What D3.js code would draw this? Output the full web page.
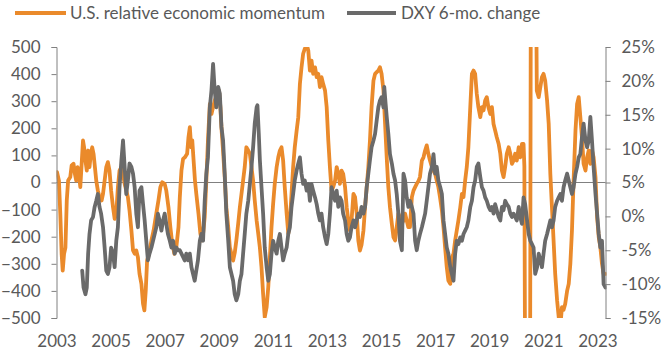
<!DOCTYPE html>
<html><head><meta charset="utf-8">
<script src="https://cdn.jsdelivr.net/npm/d3@7"></script>
<style>
html,body{margin:0;padding:0;background:#fff;}
svg{display:block;font-family:Lato,"Open Sans",sans-serif;}
</style></head>
<body><svg id="chart" width="664" height="352"></svg>
<script>
// ---- data ----
const seriesNames = ["U.S. relative economic momentum", "DXY 6-mo. change"];
const yearTicks = [2003,2005,2007,2009,2011,2013,2015,2017,2019,2021,2023];
const leftTicks = [-500,-400,-300,-200,-100,0,100,200,300,400,500];
const rightTicks = [-15,-10,-5,0,5,10,15,20,25];

const momentumYears = [2003.00,2003.02,2003.09,2003.14,2003.19,2003.23,2003.28,2003.33,2003.38,2003.43,2003.51,2003.56,2003.63,2003.68,2003.73,2003.78,2003.83,2003.88,2003.93,2003.98,
2004.02,2004.07,2004.12,2004.17,2004.22,2004.27,2004.32,2004.37,2004.42,2004.47,2004.53,2004.59,2004.67,2004.72,2004.78,2004.84,2004.90,2004.96,
2005.02,2005.09,2005.15,2005.21,2005.27,2005.33,2005.40,2005.46,2005.52,2005.58,2005.64,2005.70,2005.77,2005.83,2005.89,2005.95,
2006.01,2006.07,2006.14,2006.20,2006.25,2006.30,2006.35,2006.42,2006.51,2006.59,2006.69,2006.77,2006.84,2006.91,
2007.00,2007.06,2007.14,2007.21,2007.28,2007.36,2007.43,2007.51,2007.56,2007.62,2007.68,2007.75,2007.83,2007.88,2007.93,2007.98,
2008.02,2008.07,2008.12,2008.17,2008.25,2008.32,2008.37,2008.42,2008.48,2008.54,2008.60,2008.67,2008.73,2008.79,2008.85,2008.94,
2009.01,2009.06,2009.10,2009.15,2009.22,2009.28,2009.35,2009.41,2009.53,2009.59,2009.65,2009.72,2009.78,2009.84,2009.90,2009.96,
2010.02,2010.09,2010.15,2010.21,2010.27,2010.33,2010.40,2010.46,2010.52,2010.58,2010.64,2010.70,2010.77,2010.83,2010.89,2010.95,
2011.01,2011.07,2011.14,2011.20,2011.26,2011.32,2011.38,2011.44,2011.51,2011.57,2011.63,2011.69,2011.75,2011.81,2011.88,2011.94,
2012.00,2012.06,2012.12,2012.18,2012.25,2012.31,2012.37,2012.43,2012.49,2012.56,2012.62,2012.68,2012.74,2012.80,2012.86,2012.93,2012.99,
2013.05,2013.11,2013.17,2013.23,2013.30,2013.36,2013.42,2013.48,2013.54,2013.60,2013.67,2013.73,2013.79,2013.85,2013.91,2013.98,
2014.04,2014.10,2014.16,2014.22,2014.28,2014.35,2014.41,2014.47,2014.53,2014.59,2014.65,2014.72,2014.78,2014.84,2014.90,2014.96,
2015.02,2015.09,2015.15,2015.21,2015.27,2015.33,2015.40,2015.46,2015.52,2015.58,2015.64,2015.70,2015.77,2015.83,2015.89,2015.95,
2016.01,2016.07,2016.14,2016.20,2016.26,2016.32,2016.39,2016.44,2016.51,2016.57,2016.63,2016.69,2016.75,2016.81,2016.88,2016.94,
2017.00,2017.06,2017.12,2017.18,2017.25,2017.31,2017.37,2017.43,2017.49,2017.56,2017.62,2017.68,2017.74,2017.80,2017.86,2017.93,2017.99,
2018.05,2018.11,2018.17,2018.23,2018.30,2018.36,2018.42,2018.48,2018.54,2018.60,2018.67,2018.73,2018.79,2018.85,2018.91,2018.97,
2019.04,2019.10,2019.16,2019.22,2019.28,2019.35,2019.41,2019.47,2019.53,2019.59,2019.65,2019.72,2019.78,2019.84,2019.90,2019.96,
2020.02,2020.09,2020.15,2020.21,2020.27,2020.30,2020.33,2020.51,2020.54,2020.73,2020.76,2020.83,2020.89,2020.95,
2021.01,2021.07,2021.14,2021.20,2021.26,2021.32,2021.38,2021.44,2021.51,2021.57,2021.63,2021.69,2021.75,2021.81,2021.88,2021.94,
2022.00,2022.06,2022.12,2022.19,2022.25,2022.31,2022.37,2022.43,2022.49,2022.56,2022.62,2022.68,2022.74,2022.80,2022.86,2022.93,2022.99,
2023.05,2023.11,2023.17,2023.23,2023.30];
const momentumValues = [30,38,7,-115,-263,-325,-263,-240,-66,7,20,63,69,32,7,57,32,-17,69,155,
130,81,44,118,57,106,130,106,57,7,-30,-54,-66,-42,7,57,75,44,
-30,-91,-134,-115,-17,44,57,32,-5,-30,-54,-103,-177,-251,-263,-251,
-276,-337,-374,-448,-472,-399,-288,-263,-214,-177,-115,-66,-17,1,
-5,-30,-91,-165,-226,-263,-240,-165,-54,44,87,93,106,167,204,130,
155,81,7,-42,-115,-189,-214,-189,-128,7,155,290,253,278,302,327,
339,278,200,130,20,-91,-165,-240,-288,-260,-214,-150,-91,-42,7,57,
130,118,106,57,7,-66,-140,-189,-240,-312,-411,-497,-460,-386,-276,-165,
-79,-5,57,93,118,130,81,-17,-115,-189,-140,-42,57,130,192,241,
364,425,475,493,510,487,413,450,401,425,389,401,352,389,364,339,278,
155,57,-30,-17,7,57,32,-5,44,32,-17,-91,-140,-177,-140,-42,
-54,-115,-214,-251,-230,-177,-91,-17,57,155,278,376,401,407,413,425,
401,339,216,93,-17,-91,-153,-202,-214,-165,-115,-128,-153,-140,-115,-140,
-165,-165,-54,-30,-17,-5,7,20,81,93,118,137,106,81,57,44,
32,7,-17,-54,-103,-165,-240,-312,-362,-374,-276,-263,-214,-177,-140,-91,-42,
-54,7,57,130,278,401,413,401,327,278,241,278,266,302,315,278,
253,278,216,192,167,142,106,44,20,57,106,130,106,69,81,106,
81,130,93,142,142,60,-800,-800,800,800,339,315,352,389,
401,376,302,216,32,-91,-214,-337,-435,-497,-530,-460,-470,-448,-400,-374,
-300,-177,7,192,290,315,241,167,69,44,93,118,69,118,93,20,-128,
-202,-239,-300,-337,-337];

const dxyYears = [2003.95,2004.00,2004.07,2004.12,2004.17,2004.22,2004.28,2004.35,2004.41,2004.47,2004.53,2004.59,2004.65,2004.72,2004.78,2004.84,2004.90,2004.96,
2005.02,2005.09,2005.15,2005.21,2005.27,2005.33,2005.40,2005.46,2005.52,2005.58,2005.64,2005.70,2005.77,2005.83,2005.89,2005.95,
2006.01,2006.07,2006.14,2006.20,2006.26,2006.32,2006.38,2006.44,2006.51,2006.57,2006.63,2006.69,2006.75,2006.81,2006.88,2006.94,
2007.00,2007.06,2007.12,2007.19,2007.25,2007.31,2007.37,2007.43,2007.49,2007.56,2007.62,2007.68,2007.74,2007.80,2007.86,2007.93,2007.99,
2008.05,2008.11,2008.17,2008.23,2008.30,2008.36,2008.42,2008.48,2008.54,2008.60,2008.67,2008.73,2008.79,2008.85,2008.91,2008.98,
2009.04,2009.10,2009.16,2009.22,2009.28,2009.35,2009.41,2009.47,2009.53,2009.59,2009.65,2009.72,2009.78,2009.84,2009.90,2009.96,
2010.02,2010.09,2010.15,2010.21,2010.27,2010.33,2010.40,2010.43,2010.48,2010.52,2010.58,2010.64,2010.70,2010.77,2010.83,2010.89,2010.95,
2011.01,2011.07,2011.14,2011.20,2011.26,2011.32,2011.38,2011.44,2011.51,2011.57,2011.63,2011.69,2011.75,2011.81,2011.88,2011.94,
2012.00,2012.06,2012.12,2012.18,2012.25,2012.31,2012.37,2012.43,2012.49,2012.56,2012.62,2012.68,2012.74,2012.80,2012.86,2012.93,2012.99,
2013.05,2013.11,2013.17,2013.23,2013.30,2013.36,2013.42,2013.48,2013.54,2013.60,2013.67,2013.73,2013.79,2013.85,2013.91,2013.98,
2014.04,2014.10,2014.16,2014.22,2014.28,2014.35,2014.41,2014.47,2014.53,2014.59,2014.65,2014.72,2014.78,2014.84,2014.90,2014.96,
2015.02,2015.09,2015.12,2015.17,2015.21,2015.27,2015.33,2015.40,2015.46,2015.52,2015.58,2015.64,2015.70,2015.77,2015.83,2015.89,2015.95,
2016.01,2016.07,2016.14,2016.20,2016.26,2016.32,2016.38,2016.44,2016.51,2016.57,2016.63,2016.69,2016.75,2016.81,2016.88,2016.94,
2017.00,2017.06,2017.12,2017.19,2017.25,2017.31,2017.37,2017.43,2017.49,2017.56,2017.62,2017.68,2017.74,2017.80,2017.86,2017.93,2017.99,
2018.05,2018.11,2018.17,2018.23,2018.30,2018.36,2018.42,2018.48,2018.54,2018.60,2018.67,2018.73,2018.79,2018.85,2018.91,2018.98,
2019.04,2019.10,2019.16,2019.22,2019.28,2019.35,2019.41,2019.47,2019.53,2019.59,2019.65,2019.72,2019.78,2019.84,2019.90,2019.96,
2020.02,2020.09,2020.15,2020.21,2020.27,2020.33,2020.40,2020.46,2020.52,2020.58,2020.64,2020.70,2020.77,2020.83,2020.89,2020.95,
2021.01,2021.07,2021.14,2021.20,2021.26,2021.32,2021.38,2021.44,2021.51,2021.57,2021.63,2021.69,2021.75,2021.81,2021.88,2021.94,
2022.00,2022.06,2022.12,2022.19,2022.25,2022.31,2022.37,2022.43,2022.49,2022.56,2022.62,2022.68,2022.74,2022.80,2022.86,2022.93,2022.99,
2023.05,2023.11,2023.17,2023.23,2023.30];
const dxyValues = [-8.0,-10.5,-11.5,-10.5,-5.5,-2.6,-0.6,-0.1,1.4,2.3,3.3,1.4,0.4,-1.6,-4.6,-8.0,-8.5,-7.5,
-4.6,-5.5,-7.5,-3.6,-1.6,4.3,8.3,11.2,7.3,3.3,5.3,7.8,7.3,6.3,4.3,0.4,
-1.6,3.8,4.3,1.8,-0.6,-3.6,-6.5,-5.5,-4.6,-3.6,-2.6,-1.6,0.4,-0.6,-2.1,-0.6,
0.4,-1.1,-2.6,-3.6,-4.6,-3.6,-5.5,-4.6,-5.0,-5.0,-5.5,-6.0,-6.5,-5.5,-6.5,-5.5,-7.5,
-8.5,-9.5,-8.0,-6.5,-3.6,-2.6,-3.6,2.3,6.3,8.7,16.1,18.6,22.5,18.6,16.1,19.1,
18.1,13.2,11.2,6.3,0.4,-3.6,-7.5,-8.5,-9.5,-11.5,-12.4,-11.5,-9.5,-8.5,-5.5,-2.6,
0.4,2.3,4.8,7.3,10.2,13.7,16.1,16.4,12.2,8.3,4.3,0.4,-4.6,-7.5,-9.5,-8.5,-5.5,
-3.6,-4.6,-5.5,-3.6,-2.6,-4.6,-6.5,-5.5,-4.6,-2.6,-1.6,1.4,3.3,5.3,6.8,7.8,
8.7,6.3,4.8,5.3,3.8,4.8,2.3,4.8,3.8,2.8,1.8,0.4,-0.6,0.4,-1.6,-3.1,-4.1,
-2.6,0.4,4.3,3.3,2.3,3.8,1.4,2.8,2.3,0.4,-0.6,-2.6,-3.6,-3.1,-1.6,-0.6,
-1.6,-0.6,0.4,-0.1,1.4,0.4,1.4,4.3,6.3,8.3,10.2,11.2,12.2,14.2,16.1,17.1,
17.6,16.1,19.1,16.6,14.7,12.2,9.2,7.8,6.3,5.3,3.3,0.4,-3.6,-5.0,6.3,5.3,2.8,
1.4,2.3,1.4,0.4,-3.6,-5.0,-3.6,-2.6,-1.6,-0.6,0.4,2.3,4.3,6.3,7.3,9.2,
6.3,7.3,5.3,4.3,3.3,-0.6,-2.6,-4.6,-5.5,-7.5,-8.5,-9.5,-5.5,-3.6,-4.1,-3.1,-3.6,
-2.6,-2.1,-1.6,-0.6,1.4,2.3,4.3,5.3,7.3,7.8,5.8,4.3,3.8,2.8,2.3,1.4,
0.9,1.4,0.4,1.8,0.9,-0.1,-0.6,1.4,0.9,2.3,1.8,1.4,0.4,-0.1,0.4,-0.1,
-0.6,1.4,-0.1,-1.1,2.8,1.8,-0.6,-2.6,-3.6,-4.1,-4.6,-8.5,-7.5,-5.5,-6.5,-7.5,
-5.5,-3.6,-2.6,-1.6,-0.6,-1.6,-0.6,1.4,2.3,2.8,3.3,2.3,4.3,5.3,6.3,5.3,
4.3,3.3,4.3,6.3,7.3,8.7,9.2,11.7,13.7,11.2,10.2,11.2,14.7,11.2,7.3,3.3,0.4,
-2.6,-4.6,-3.6,-10.0,-10.5];

// ---- layout ----
const svg = d3.select("#chart");
const L = 56.5, R = 605.5, T = 47, B = 318;
const x = d3.scaleLinear().domain([2003, 2023.3]).range([L, R]);
const yL = d3.scaleLinear().domain([-500, 500]).range([B, T]);
const yR = d3.scaleLinear().domain([-15, 25]).range([B, T]);
const textColor = "#595959", axisColor = "#808080";
const orange = "#EA8A2B", gray = "#6A6A6A";

svg.append("defs").append("clipPath").attr("id","plot")
  .append("rect").attr("x", L).attr("y", T).attr("width", R - L + 1).attr("height", B - T);

// zero line
svg.append("line").attr("x1", L).attr("x2", R).attr("y1", yL(0)).attr("y2", yL(0))
  .attr("stroke", axisColor).attr("stroke-width", 1);

const lineM = d3.line().x((d,i) => x(momentumYears[i])).y(d => yL(d));
const lineD = d3.line().x((d,i) => x(dxyYears[i])).y(d => yR(d));

const g = svg.append("g").attr("clip-path","url(#plot)");
g.append("path").datum(momentumValues).attr("d", lineM)
  .attr("fill","none").attr("stroke", orange).attr("stroke-width", 3.8)
  .attr("stroke-linejoin","round").attr("stroke-linecap","round");
g.append("path").datum(dxyValues).attr("d", lineD)
  .attr("fill","none").attr("stroke", gray).attr("stroke-width", 3.8)
  .attr("stroke-linejoin","round").attr("stroke-linecap","round");

function styleAxis(sel){
  sel.selectAll(".domain").attr("stroke", axisColor);
  sel.selectAll(".tick line").attr("stroke", axisColor);
  sel.selectAll("text").attr("fill", textColor).style("font-size","17px").style("font-family","Lato, 'Open Sans', sans-serif");
}
svg.append("g").attr("transform", `translate(${L},0)`)
  .call(d3.axisLeft(yL).tickValues(leftTicks).tickSize(5).tickPadding(11).tickSizeOuter(5))
  .call(styleAxis);
svg.append("g").attr("transform", `translate(${R},0)`)
  .call(d3.axisRight(yR).tickValues(rightTicks).tickSize(5).tickPadding(11).tickSizeOuter(5)
    .tickFormat(d => d + "%"))
  .call(styleAxis);
svg.append("g").attr("transform", `translate(0,${B})`)
  .call(d3.axisBottom(x).tickValues(yearTicks).tickSize(0).tickPadding(17).tickFormat(d3.format("d")))
  .call(s => s.select(".domain").remove())
  .call(styleAxis);

// legend
const leg = [
  {name: seriesNames[0], color: orange, x0: 15, x1: 66, tx: 70},
  {name: seriesNames[1], color: gray, x0: 347, x1: 396, tx: 401}
];
const lg = svg.append("g");
leg.forEach(d => {
  lg.append("line").attr("x1", d.x0).attr("x2", d.x1).attr("y1", 13).attr("y2", 13)
    .attr("stroke", d.color).attr("stroke-width", 3.8);
  lg.append("text").attr("x", d.tx).attr("y", 13).attr("dy","0.35em")
    .attr("fill", textColor).style("font-size","17px").text(d.name);
});
</script></body></html>
